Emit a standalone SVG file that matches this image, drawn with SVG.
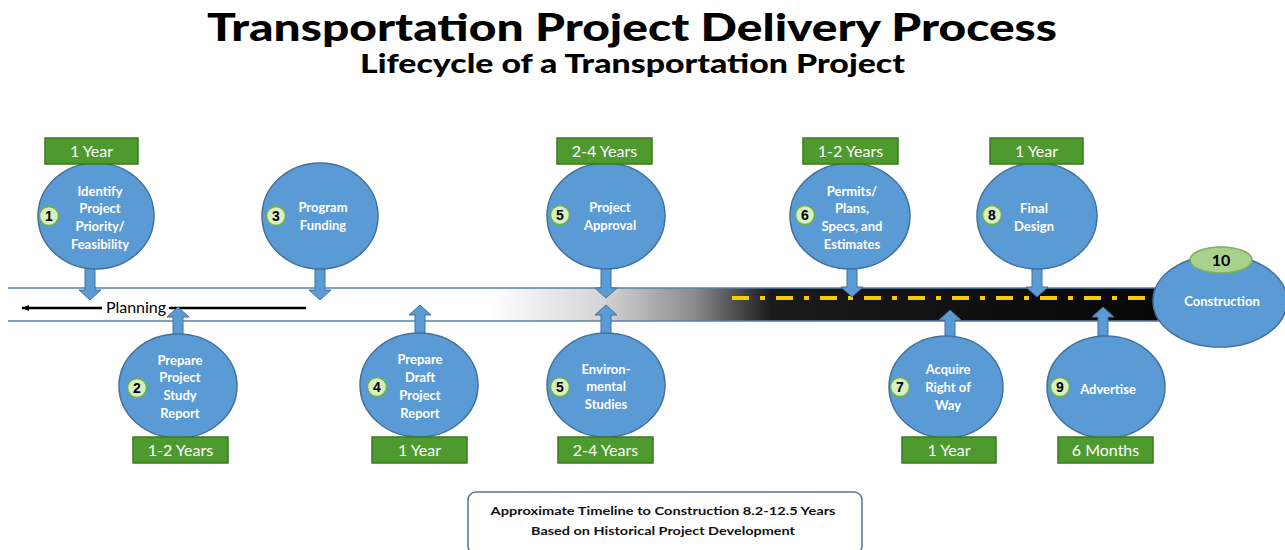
<svg xmlns="http://www.w3.org/2000/svg" width="1285" height="550" viewBox="0 0 1285 550">
<style>
.title{font-family:Lato,"DejaVu Sans","Liberation Sans",sans-serif;font-weight:900;fill:#000}
.node{fill:#5b9bd5;stroke:#41719c;stroke-width:1.5}
.nt{font-family:Lato,"Open Sans",sans-serif;font-weight:bold;font-size:13px;fill:#fff;text-anchor:middle}
.lab{fill:#4f9a2e;stroke:#3b7a1e;stroke-width:1.5}
.lt{font-family:Lato,"Open Sans",sans-serif;font-size:16px;fill:#fff;text-anchor:middle}
.badge{fill:#d8efc2;stroke:#6fae45;stroke-width:1.5}
.bt{font-family:"Liberation Sans",sans-serif;font-weight:bold;font-size:14px;fill:#000;text-anchor:middle}
.arr{fill:#5b9bd5;stroke:#41719c;stroke-width:1}
.edge{stroke:#5a7fa8;stroke-width:1.5;fill:none}
</style>
<defs>
<linearGradient id="road" gradientUnits="userSpaceOnUse" x1="0" y1="0" x2="1285" y2="0">
<stop offset="0" stop-color="#fff"/>
<stop offset="0.38" stop-color="#fff"/>
<stop offset="0.47" stop-color="#d4d4d4"/>
<stop offset="0.54" stop-color="#8c8c8c"/>
<stop offset="0.60" stop-color="#1a1a1a"/>
<stop offset="1" stop-color="#000"/>
</linearGradient>
<marker id="ah" markerWidth="8" markerHeight="8" refX="1" refY="4" orient="auto" markerUnits="userSpaceOnUse">
<path d="M8,1 L1,4 L8,7 Z" fill="#000"/>
</marker>
</defs>
<rect width="1285" height="550" fill="#fff"/>
<text class="title" x="207" y="41" font-size="37" textLength="850" lengthAdjust="spacingAndGlyphs">Transportation Project Delivery Process</text>
<text class="title" x="360" y="73" font-size="27" textLength="545" lengthAdjust="spacingAndGlyphs">Lifecycle of a Transportation Project</text>
<g id="road-group">
<rect x="8" y="288" width="1170" height="33" fill="url(#road)"/>
<line class="edge" x1="8" y1="288" x2="1178" y2="288"/>
<line class="edge" x1="8" y1="321" x2="1178" y2="321"/>
<line x1="732" y1="298" x2="1160" y2="298" stroke="#f2cc0c" stroke-width="4" stroke-dasharray="17 11 5 11"/>
<line x1="22" y1="308" x2="102" y2="308" stroke="#000" stroke-width="2.5" marker-start="url(#ah)"/>
<line x1="170" y1="308" x2="305" y2="308" stroke="#000" stroke-width="2.5" stroke-linecap="round"/>
<text x="136" y="313" font-family="Lato,'Open Sans',sans-serif" font-size="16" text-anchor="middle" fill="#000">Planning</text>
</g>
<g id="connectors">
<path class="arr" d="M85,266 L95,266 L95,290 L101,290 L90,300 L79,290 L85,290 Z"/>
<path class="arr" d="M315,268 L325,268 L325,290 L331,290 L320,300 L309,290 L315,290 Z"/>
<path class="arr" d="M601,268 L611,268 L611,288 L617,288 L606,298 L595,288 L601,288 Z" stroke="#fff"/>
<path class="arr" d="M847,268 L857,268 L857,287 L863,287 L852,297 L841,287 L847,287 Z"/>
<path class="arr" d="M1032,268 L1042,268 L1042,287 L1048,287 L1037,297 L1026,287 L1032,287 Z"/>
<path class="arr" d="M173,335 L183,335 L183,317 L189,317 L178,307 L167,317 L173,317 Z"/>
<path class="arr" d="M415,334 L425,334 L425,315 L431,315 L420,305 L409,315 L415,315 Z"/>
<path class="arr" d="M601,334 L611,334 L611,315 L617,315 L606,305 L595,315 L601,315 Z" stroke="#fff"/>
<path class="arr" d="M945,338 L955,338 L955,320 L961,320 L950,310 L939,320 L945,320 Z"/>
<path class="arr" d="M1098,336 L1108,336 L1108,317 L1114,317 L1103,307 L1092,317 L1098,317 Z"/>
</g>
<g id="n1">
<ellipse class="node" cx="96" cy="216" rx="58" ry="53"/>
<rect class="lab" x="45" y="138" width="93" height="26"/>
<text class="lt" x="91.5" y="157">1 Year</text>
<text class="nt" x="100" y="196">Identify</text>
<text class="nt" x="100" y="213">Project</text>
<text class="nt" x="100" y="231">Priority/</text>
<text class="nt" x="100" y="249">Feasibility</text>
<circle class="badge" cx="49" cy="216" r="9.5"/>
<text class="bt" x="49" y="221">1</text>
</g>
<g id="n2">
<ellipse class="node" cx="178" cy="386" rx="59" ry="52"/>
<rect class="lab" x="133" y="437" width="95" height="26"/>
<text class="lt" x="180.5" y="456">1-2 Years</text>
<text class="nt" x="180" y="365">Prepare</text>
<text class="nt" x="180" y="382">Project</text>
<text class="nt" x="180" y="400">Study</text>
<text class="nt" x="180" y="418">Report</text>
<circle class="badge" cx="137" cy="388" r="9.5"/>
<text class="bt" x="137" y="393">2</text>
</g>
<g id="n3">
<ellipse class="node" cx="320" cy="216" rx="58" ry="53"/>
<text class="nt" x="323" y="212">Program</text>
<text class="nt" x="323" y="230">Funding</text>
<circle class="badge" cx="276" cy="216" r="9.5"/>
<text class="bt" x="276" y="221">3</text>
</g>
<g id="n4">
<ellipse class="node" cx="419" cy="385" rx="59" ry="52"/>
<rect class="lab" x="372" y="437" width="95" height="26"/>
<text class="lt" x="419.5" y="456">1 Year</text>
<text class="nt" x="420" y="364">Prepare</text>
<text class="nt" x="420" y="382">Draft</text>
<text class="nt" x="420" y="400">Project</text>
<text class="nt" x="420" y="418">Report</text>
<circle class="badge" cx="377" cy="387" r="9.5"/>
<text class="bt" x="377" y="392">4</text>
</g>
<g id="n5a">
<ellipse class="node" cx="606" cy="216" rx="59" ry="53"/>
<rect class="lab" x="557" y="138" width="95" height="26"/>
<text class="lt" x="604.5" y="157">2-4 Years</text>
<text class="nt" x="610" y="212">Project</text>
<text class="nt" x="610" y="230">Approval</text>
<circle class="badge" cx="560" cy="215" r="9.5"/>
<text class="bt" x="560" y="220">5</text>
</g>
<g id="n5b">
<ellipse class="node" cx="606" cy="385" rx="59" ry="52"/>
<rect class="lab" x="558" y="437" width="95" height="26"/>
<text class="lt" x="605.5" y="456">2-4 Years</text>
<text class="nt" x="606" y="374">Environ-</text>
<text class="nt" x="606" y="391">mental</text>
<text class="nt" x="606" y="409">Studies</text>
<circle class="badge" cx="560" cy="387" r="9.5"/>
<text class="bt" x="560" y="392">5</text>
</g>
<g id="n6">
<ellipse class="node" cx="850" cy="216" rx="60" ry="53"/>
<rect class="lab" x="803" y="138" width="95" height="26"/>
<text class="lt" x="850.5" y="157">1-2 Years</text>
<text class="nt" x="852" y="196">Permits/</text>
<text class="nt" x="852" y="213">Plans,</text>
<text class="nt" x="852" y="231">Specs, and</text>
<text class="nt" x="852" y="249">Estimates</text>
<circle class="badge" cx="805" cy="215" r="9.5"/>
<text class="bt" x="805" y="220">6</text>
</g>
<g id="n7">
<ellipse class="node" cx="946" cy="387" rx="57" ry="51"/>
<rect class="lab" x="902" y="437" width="94" height="26"/>
<text class="lt" x="949" y="456">1 Year</text>
<text class="nt" x="948" y="374">Acquire</text>
<text class="nt" x="948" y="392">Right of</text>
<text class="nt" x="948" y="410">Way</text>
<circle class="badge" cx="900" cy="387" r="9.5"/>
<text class="bt" x="900" y="392">7</text>
</g>
<g id="n8">
<ellipse class="node" cx="1037" cy="216" rx="60" ry="53"/>
<rect class="lab" x="990" y="138" width="93" height="26"/>
<text class="lt" x="1036.5" y="157">1 Year</text>
<text class="nt" x="1034" y="213">Final</text>
<text class="nt" x="1034" y="231">Design</text>
<circle class="badge" cx="992" cy="215" r="9.5"/>
<text class="bt" x="992" y="220">8</text>
</g>
<g id="n9">
<ellipse class="node" cx="1106" cy="387" rx="59" ry="51"/>
<rect class="lab" x="1058" y="437" width="95" height="26"/>
<text class="lt" x="1105.5" y="456">6 Months</text>
<text class="nt" x="1108" y="394">Advertise</text>
<circle class="badge" cx="1060" cy="387" r="9.5"/>
<text class="bt" x="1060" y="392">9</text>
</g>
<g id="n10">
<ellipse class="node" cx="1220" cy="301" rx="67" ry="46"/>
<ellipse cx="1221" cy="260" rx="31" ry="13" fill="#a9d18e" stroke="#7cae5a" stroke-width="1.5"/>
<text x="1221" y="266" font-family="Lato,'Open Sans',sans-serif" font-weight="bold" font-size="16" text-anchor="middle" fill="#000">10</text>
<text class="nt" x="1222" y="306">Construction</text>
</g>
<g id="note">
<rect x="468" y="492" width="394" height="62" rx="8" fill="#fff" stroke="#5d718c" stroke-width="1.5"/>
<text x="663" y="515" font-family="Lato,'Open Sans',sans-serif" font-weight="bold" font-size="12" text-anchor="middle" fill="#111" textLength="345" lengthAdjust="spacingAndGlyphs">Approximate Timeline to Construction 8.2-12.5 Years</text>
<text x="663" y="535" font-family="Lato,'Open Sans',sans-serif" font-weight="bold" font-size="12" text-anchor="middle" fill="#111" textLength="264" lengthAdjust="spacingAndGlyphs">Based on Historical Project Development</text>
</g>
</svg>
